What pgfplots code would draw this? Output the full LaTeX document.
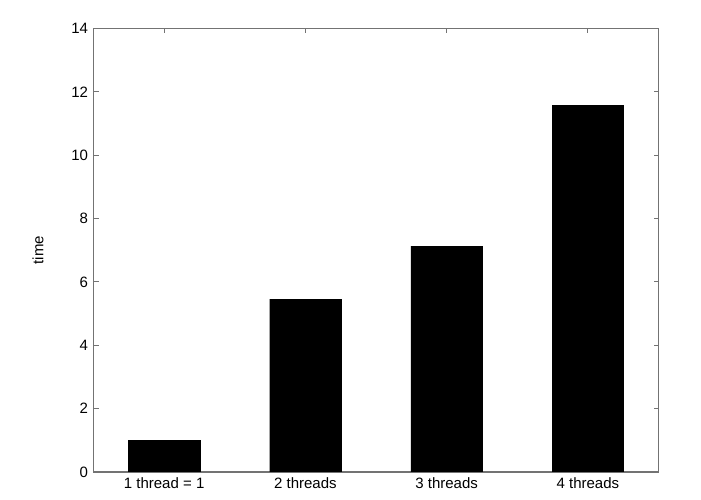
\documentclass[border=0pt]{standalone}
\usepackage{fontspec}
\setmainfont{Liberation Sans}
\usepackage{pgfplots}
\pgfplotsset{compat=1.18}
\begin{document}
\begin{tikzpicture}[x=1pt,y=1pt]
\useasboundingbox (-93.5,-28) rectangle (607.5,472);
\begin{axis}[
  at={(0pt,0pt)}, anchor=south west,
  scale only axis,
  width=565pt, height=443.5pt,
  xmin=-0.5, xmax=3.5, ymin=0, ymax=14,
  ytick={0,2,...,14},
  xtick={0,1,2,3},
  xticklabels={1 thread = 1, 2 threads, 3 threads, 4 threads},
  tick align=inside,
  major tick length=5pt,
  every tick/.style={draw=black!55, line width=1pt},
  axis line style={draw=black!55, line width=1.3pt},
  tick label style={font=\fontsize{15}{17}\selectfont},
  /pgf/number format/assume math mode=true,
  yticklabel style={xshift=-2pt},
  xticklabel style={yshift=-2pt},
  ylabel={time},
  every axis y label/.style={at={(axis description cs:0,0.5)}, xshift=-55.5pt, rotate=90, anchor=center, font=\fontsize{15}{17}\selectfont},
  axis on top=false,
]
\addplot[ybar, bar width=0.505, fill=black, draw=black] coordinates {
  (0,1.0) (1,5.46) (2,7.13) (3,11.58)
};
\end{axis}
\end{tikzpicture}
\end{document}
